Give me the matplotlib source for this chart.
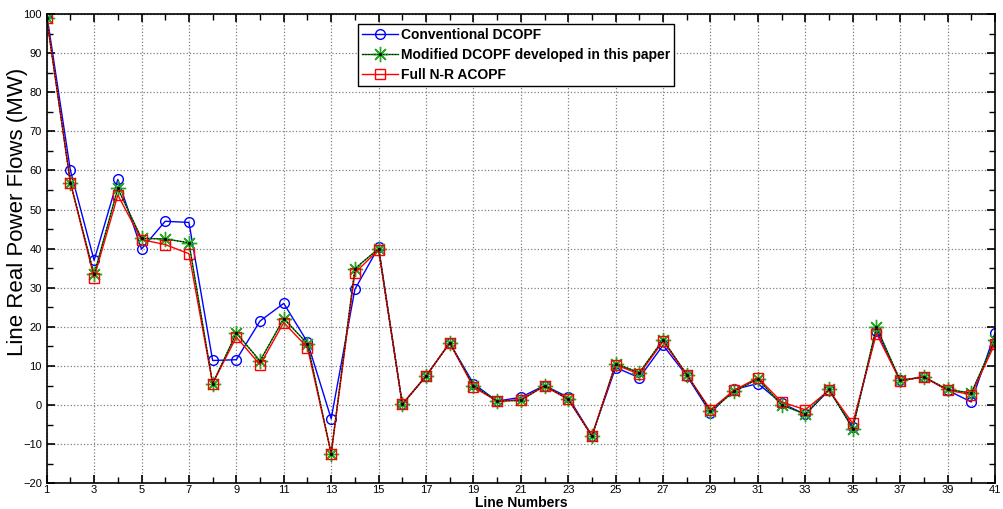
import matplotlib
matplotlib.use("Agg")
import matplotlib.pyplot as plt
from matplotlib.ticker import MultipleLocator

plt.rcParams['font.family'] = ['Liberation Sans', 'DejaVu Sans']

# line numbers 1..41
line_no = list(range(1, 42))

conventional = [100, 60, 37, 57.7, 39.9, 47, 46.7, 11.4, 11.6, 21.5,
                26, 16.1, -3.5, 29.6, 40.4, 0.2, 7.4, 15.9, 5.5, 1,
                2, 5, 2, -7.8, 9.6, 7, 15.3, 7.5, -2, 4,
                5.5, 0.5, -2.4, 3.8, -5.6, 19, 6.3, 7.2, 3.8, 0.8,
                18.4]
modified = [99, 56.9, 33.4, 55.4, 42.6, 42.5, 41.5, 5.5, 18.4, 11.3,
            22.1, 15.7, -12.4, 34.9, 40, 0.2, 7.4, 15.9, 5, 1,
            1.2, 5, 1.5, -8, 10.6, 8.3, 16.7, 7.8, -1.5, 3.5,
            6.7, 0, -2.3, 4, -6, 20, 6.3, 7.2, 4, 3.1,
            16.6]
acopf = [99, 56.9, 32.6, 53.7, 42.3, 41.05, 38.7, 5.5, 17.4, 10.3,
         21.1, 14.7, -12.4, 33.8, 39.7, 0.2, 7.4, 15.9, 4.6, 1,
         1.4, 4.8, 1.5, -7.8, 10.3, 7.9, 16.3, 7.8, -1.2, 3.8,
         7, 0.8, -1.2, 3.8, -4.7, 18.3, 6.2, 7.2, 3.8, 2.7,
         15.7]

fig = plt.figure(figsize=(10.04, 5.09), dpi=100)
ax = fig.add_axes([0.0465, 0.0505, 0.9445, 0.922])

asterisk = (8, 2, 0)  # matlab style '*'

h1, = ax.plot(line_no, conventional, '-o', color='b', lw=1, ms=7,
              mfc='none', mec='b', mew=1, label='Conventional DCOPF')
h2, = ax.plot(line_no, modified, '-', marker=asterisk, color='g', lw=1,
              ms=11, mec='#22aa22', mew=1,
              label='Modified DCOPF developed in this paper')
h3, = ax.plot(line_no, acopf, '-s', color='r', lw=1, ms=6.5,
              mfc='none', mec='r', mew=1, label='Full N-R ACOPF')
# thin black trace along the modified series
hk, = ax.plot(line_no, modified, ':', color='k', lw=0.8, marker='.', ms=2.5)

ax.set_xlim(1, 41)
ax.set_ylim(-20, 100)
ax.set_xticks(range(1, 42, 2))
ax.xaxis.set_minor_locator(MultipleLocator(1))
ax.yaxis.set_major_locator(MultipleLocator(10))
ax.yaxis.set_minor_locator(MultipleLocator(5))
ax.tick_params(which='both', direction='in', top=True, right=True,
               labelsize=8)
ax.tick_params(axis='x', pad=1.5)
ax.tick_params(which='major', length=6, width=1.2)
ax.tick_params(which='minor', length=4, width=1)
ax.grid(True, which='major', linestyle=':', color='#808080', lw=0.9)
for s in ax.spines.values():
    s.set_linewidth(1.2)

ax.set_xlabel('Line Numbers', fontsize=10, fontweight='bold')
ax.xaxis.set_label_coords(0.5, -0.041)
ax.xaxis.label.set_va('center')
ax.set_ylabel('Line Real Power Flows (MW)', fontsize=16)
ax.yaxis.set_label_coords(-0.0198, 0.578)

ax.legend([h1, (h2, hk), h3],
          [h1.get_label(), h2.get_label(), h3.get_label()],
          loc='upper left', bbox_to_anchor=(0.328, 0.979),
          prop={'weight': 'bold', 'size': 10}, frameon=True, fancybox=False,
          edgecolor='k', framealpha=1, borderpad=0.3, handlelength=2.6,
          handletextpad=0.2, labelspacing=0.42, borderaxespad=0)

fig.savefig('out.png', dpi=100)
